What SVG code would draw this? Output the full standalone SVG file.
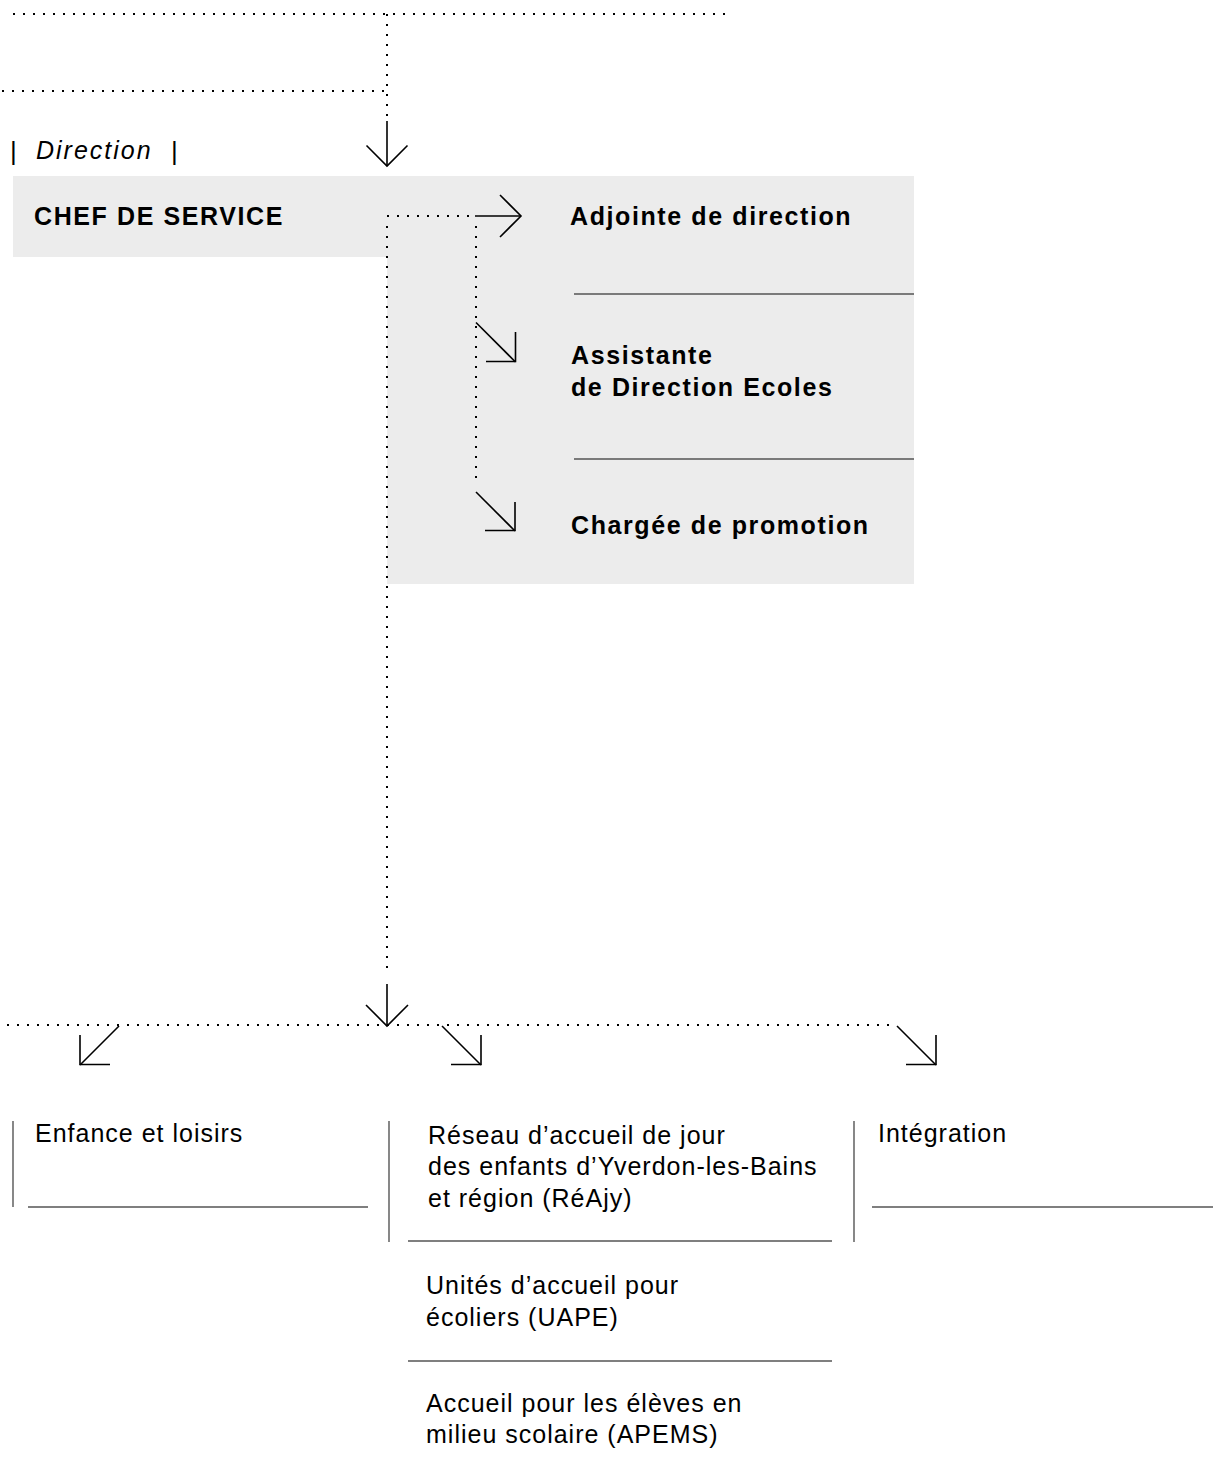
<svg xmlns="http://www.w3.org/2000/svg" width="1213" height="1478" viewBox="0 0 1213 1478">
<style>
.dot{fill:none;stroke:#000;stroke-width:2;stroke-dasharray:2 8}
.arr{fill:none;stroke:#000;stroke-width:1.6}
.sep{fill:none;stroke:#555;stroke-width:1.4}
.b{font-family:"Liberation Sans",Arial,sans-serif;font-weight:bold;font-size:25px;letter-spacing:1.6px;fill:#000}
.r{font-family:"Liberation Sans",Arial,sans-serif;font-size:25px;letter-spacing:1px;fill:#000}
.i{font-family:"Liberation Sans",Arial,sans-serif;font-style:italic;font-size:25px;letter-spacing:2px;fill:#000}
.bar{font-family:"Liberation Sans",Arial,sans-serif;font-size:26px;fill:#000}
</style>
<rect width="1213" height="1478" fill="#fff"/>
<g id="backgrounds">
<rect x="13" y="176" width="901" height="81" fill="#ececec"/>
<rect x="387" y="256" width="527" height="328" fill="#ececec"/>
</g>
<g id="direction-label">
<text class="bar" x="10" y="160">|</text>
<text class="i" x="36" y="159">Direction</text>
<text class="bar" x="171" y="160">|</text>
</g>
<g id="chef-de-service">
<text class="b" x="34" y="225">CHEF DE SERVICE</text>
</g>
<g id="adjointe">
<text class="b" x="570" y="225">Adjointe de direction</text>
<line class="sep" x1="574" y1="294" x2="914" y2="294"/>
</g>
<g id="assistante">
<text class="b" x="571" y="364">Assistante</text>
<text class="b" x="571" y="396">de Direction Ecoles</text>
<line class="sep" x1="574" y1="459" x2="914" y2="459"/>
</g>
<g id="chargee">
<text class="b" x="571" y="534">Chargée de promotion</text>
</g>
<g id="enfance">
<line class="sep" x1="13" y1="1121" x2="13" y2="1207"/>
<text class="r" x="35" y="1142">Enfance et loisirs</text>
<line class="sep" x1="28" y1="1207" x2="368" y2="1207"/>
</g>
<g id="reseau">
<line class="sep" x1="389" y1="1121" x2="389" y2="1242"/>
<text class="r" x="428" y="1144">Réseau d’accueil de jour</text>
<text class="r" x="428" y="1175">des enfants d’Yverdon-les-Bains</text>
<text class="r" x="428" y="1207">et région (RéAjy)</text>
<line class="sep" x1="408" y1="1241" x2="832" y2="1241"/>
</g>
<g id="uape">
<text class="r" x="426" y="1294">Unités d’accueil pour</text>
<text class="r" x="426" y="1326">écoliers (UAPE)</text>
<line class="sep" x1="408" y1="1361" x2="832" y2="1361"/>
</g>
<g id="apems">
<text class="r" x="426" y="1412">Accueil pour les élèves en</text>
<text class="r" x="426" y="1443">milieu scolaire (APEMS)</text>
</g>
<g id="integration">
<line class="sep" x1="854" y1="1121" x2="854" y2="1242"/>
<text class="r" x="878" y="1142">Intégration</text>
<line class="sep" x1="872" y1="1207" x2="1213" y2="1207"/>
</g>
<g id="connectors">
<line class="dot" x1="13" y1="14" x2="733" y2="14"/>
<line class="dot" x1="2" y1="91" x2="387" y2="91"/>
<line class="dot" x1="387" y1="14" x2="387" y2="118"/>
<line class="arr" x1="387" y1="121" x2="387" y2="166"/>
<polyline class="arr" points="366.5,145.5 387,166 407.5,145.5"/>
<line class="dot" x1="387" y1="216" x2="472" y2="216"/>
<line class="arr" x1="475" y1="216" x2="521" y2="216"/>
<polyline class="arr" points="500,195 521,216 500,237"/>
<line class="dot" x1="476" y1="226" x2="476" y2="484"/>
<line class="arr" x1="476" y1="322.5" x2="515.5" y2="362"/>
<polyline class="arr" points="486,361.5 515.5,361.5 515.5,332"/>
<line class="arr" x1="476" y1="492" x2="515" y2="531"/>
<polyline class="arr" points="485,530.5 515,530.5 515,502"/>
<line class="dot" x1="387" y1="226" x2="387" y2="976"/>
<line class="arr" x1="387" y1="984" x2="387" y2="1026"/>
<polyline class="arr" points="366,1005 387,1026 408,1005"/>
<line class="dot" x1="7" y1="1025" x2="895" y2="1025"/>
<line class="arr" x1="119" y1="1026" x2="80" y2="1065"/>
<polyline class="arr" points="110,1064.5 80,1064.5 80,1035"/>
<line class="arr" x1="442" y1="1026" x2="481" y2="1065"/>
<polyline class="arr" points="451,1064.5 481,1064.5 481,1035"/>
<line class="arr" x1="897" y1="1026" x2="936" y2="1065"/>
<polyline class="arr" points="906,1064.5 936,1064.5 936,1035"/>
</g>
</svg>
